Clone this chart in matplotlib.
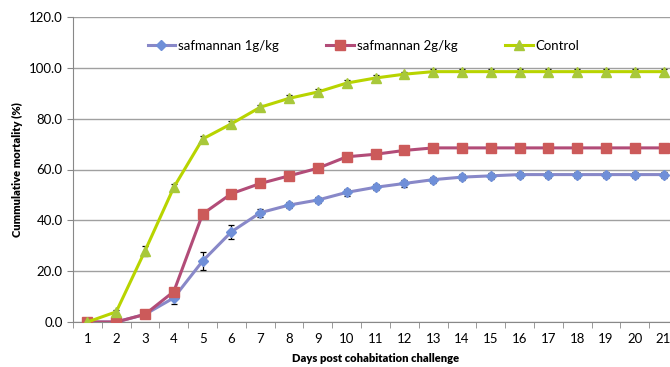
import numpy as np
import matplotlib.pyplot as plt

days = list(range(1, 22))
saf1 = [0, 0, 3, 9.5, 24, 35.5, 43, 46, 48, 51, 53, 54.5, 56, 57, 57.5, 58, 58, 58, 58, 58, 58]
saf1_err = [0.5, 0.5, 0.8, 2.5, 3.5, 2.8, 1.5, 1.3, 1.2, 1.3, 1.2, 1.3, 1.2, 1.2, 1.2, 1.2, 1.2, 1.2, 1.2, 1.2, 1.2]
saf2 = [0, 0, 3, 12, 42.5, 50.5, 54.5, 57.5, 60.5, 65, 66, 67.5, 68.5, 68.5, 68.5, 68.5, 68.5, 68.5, 68.5, 68.5, 68.5]
saf2_err = [0.5, 0.5, 0.8, 1.5, 1.0, 1.0, 1.0, 1.0, 1.0, 1.0, 1.0, 1.0, 1.0, 1.0, 1.0, 1.0, 1.0, 1.0, 1.0, 1.0, 1.0]
control = [0, 4, 28, 53, 72, 78, 84.5, 88, 90.5, 94, 96, 97.5, 98.5, 98.5, 98.5, 98.5, 98.5, 98.5, 98.5, 98.5, 98.5]
control_err = [0.5, 0.8, 2.0, 1.2, 1.0, 1.2, 1.0, 1.2, 1.2, 1.2, 1.0, 1.0, 1.0, 1.0, 1.0, 1.0, 1.0, 1.0, 1.0, 1.0, 1.0]

plt.rcParams['font.family'] = ['Lato', 'DejaVu Sans']

fig = plt.figure(figsize=(6.7, 3.67), dpi=100)
# axes runs past the right edge like the original (clipped chart)
ax = fig.add_axes([73 / 670, 45 / 367, 605 / 670, 305 / 367])

x = np.arange(len(days))

series = [
    (saf1, saf1_err, 'safmannan 1g/kg', '#8888C8', '#6F8FD8', 'D', 5),
    (saf2, saf2_err, 'safmannan 2g/kg', '#B24C78', '#CC5A5A', 's', 7),
    (control, control_err, 'Control', '#B8D400', '#A8C83A', '^', 7),
]
for y, err, lab, lc, mc, mk, ms in series:
    ax.errorbar(x, y, yerr=err, fmt='none', ecolor='black', elinewidth=0.9,
                capsize=2.5, capthick=0.9, zorder=2)
    ax.plot(x, y, color=lc, lw=2.2, marker=mk, markersize=ms,
            markerfacecolor=mc, markeredgecolor=mc, label=lab, zorder=3)

ax.set_xlim(-0.5, len(days) - 0.5)
ax.set_ylim(0, 120)
ax.set_yticks(np.arange(0, 121, 20))
ax.set_yticklabels([f'{v:.1f}' for v in np.arange(0, 121, 20)], fontsize=9.5)
ax.set_xticks(x)
ax.set_xticklabels([str(d) for d in days], fontsize=9.5)
ax.set_xticks(np.arange(-0.5, len(days), 1), minor=True)
ax.tick_params(axis='x', which='major', length=0, pad=8)
ax.tick_params(axis='x', which='minor', length=4, color='#888888')
ax.tick_params(axis='y', length=4, color='#888888')

ax.grid(axis='y', color='#A0A0A0', lw=1)
ax.set_axisbelow(True)
for s in ['top', 'right']:
    ax.spines[s].set_visible(False)
for s in ['left', 'bottom']:
    ax.spines[s].set_color('#888888')

ax.set_ylabel('Cummulative mortality (%)', fontsize=8, fontweight='heavy')
ax.set_xlabel('Days post cohabitation challenge', fontsize=8, fontweight='heavy', labelpad=6)

ax.legend(loc='center', bbox_to_anchor=(0.48, 0.905), ncol=3, frameon=False,
          fontsize=9.5, handlelength=2.1, columnspacing=3.6, handletextpad=0.2)

fig.savefig('out.png', dpi=100)
